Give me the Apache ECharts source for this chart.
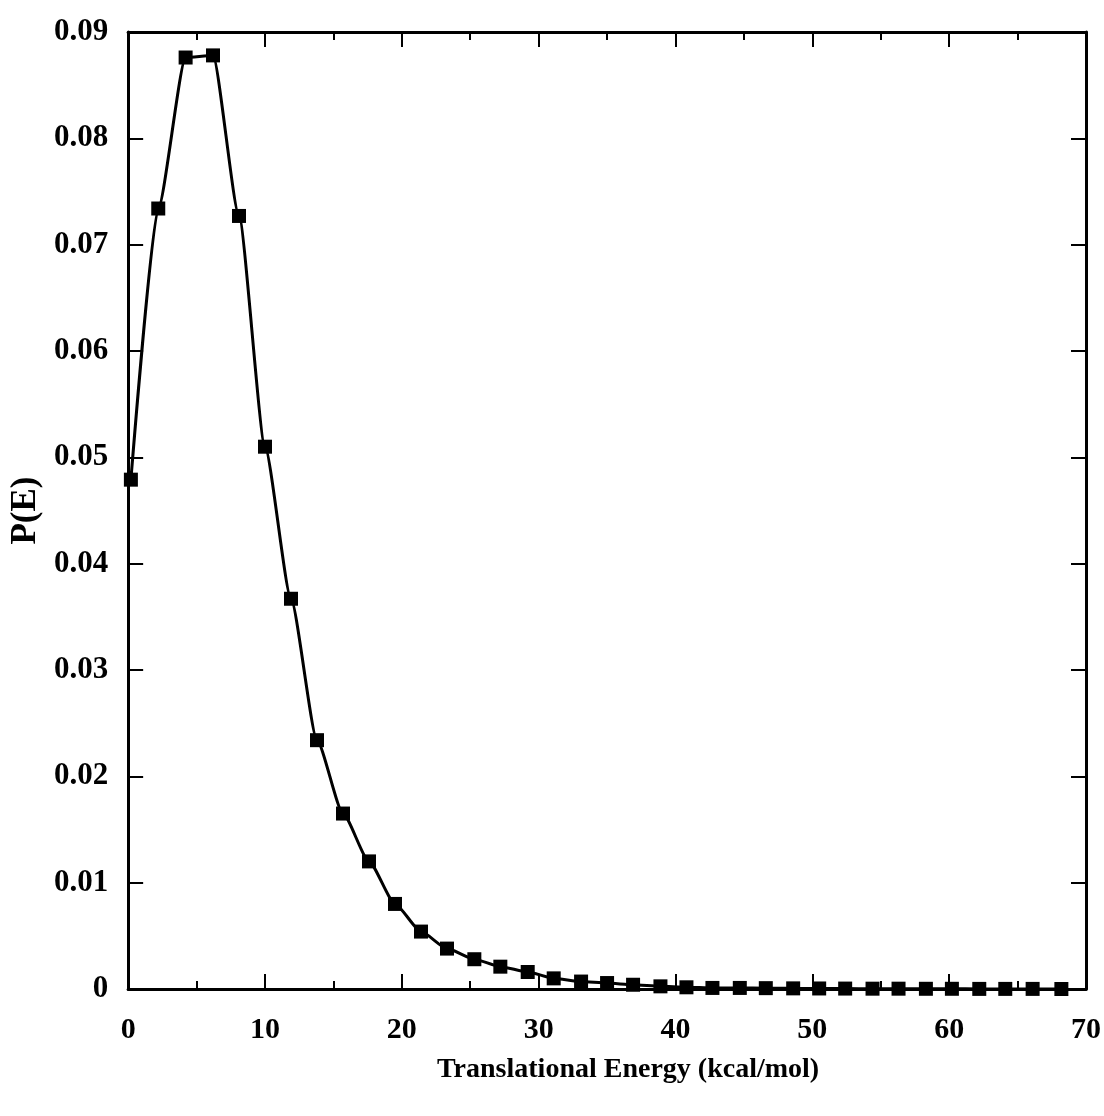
<!DOCTYPE html>
<html>
<head>
<meta charset="utf-8">
<script src="https://cdn.jsdelivr.net/npm/echarts@6/dist/echarts.min.js"></script>
<style>
html, body { margin: 0; padding: 0; background: #fff; }
#myChart { width: 1104px; height: 1116px; }
</style>
</head>
<body>
<div id="myChart"></div>
<script>
// translational energy (kcal/mol) of each point
var energy = [0.2, 2.2, 4.2, 6.2, 8.1, 10.0, 11.9, 13.8, 15.7, 17.6, 19.5, 21.4,
    23.3, 25.3, 27.2, 29.2, 31.1, 33.1, 35.0, 36.9, 38.9, 40.8, 42.7, 44.7,
    46.6, 48.6, 50.5, 52.4, 54.4, 56.3, 58.3, 60.2, 62.2, 64.1, 66.1, 68.2];
// P(E)
var prob = [0.0479, 0.0734, 0.0876, 0.0878, 0.0727, 0.0510, 0.0367, 0.0234,
    0.0165, 0.0120, 0.0080, 0.0054, 0.0038, 0.0028, 0.0021, 0.0016, 0.0010,
    0.0007, 0.00056, 0.0004, 0.00025, 0.00016, 0.0001, 0.0001, 0.00008,
    0.00006, 0.00005, 0.00004, 0.00003, 0.00003, 0.00002, 0.00002, 0.00001,
    0.00001, 0.00001, 0];
var xTicks = [0, 10, 20, 30, 40, 50, 60, 70];
var yTicks = [0, 0.01, 0.02, 0.03, 0.04, 0.05, 0.06, 0.07, 0.08, 0.09];

var points = energy.map(function (e, i) { return [e, prob[i]]; });
var font = 'Liberation Serif';
var frameLine = { show: true, onZero: false, lineStyle: { color: '#000', width: 3 } };
var tickStyle = { color: '#000', width: 2 };

var option = {
    backgroundColor: '#fff',
    animation: false,
    grid: { left: 128, right: 18, top: 32, bottom: 127 },
    xAxis: [
        {
            type: 'value',
            min: xTicks[0],
            max: xTicks[xTicks.length - 1],
            interval: 10,
            position: 'bottom',
            splitLine: { show: false },
            axisLine: frameLine,
            axisTick: { inside: true, length: 15, lineStyle: tickStyle },
            minorTick: { show: true, splitNumber: 2, length: 8, lineStyle: tickStyle },
            axisLabel: { color: '#000', fontFamily: font, fontWeight: 'bold', fontSize: 30, margin: 26 },
            name: 'Translational Energy (kcal/mol)',
            nameLocation: 'middle',
            nameGap: 67,
            nameTextStyle: {
                color: '#000', fontFamily: font, fontWeight: 'bold', fontSize: 28,
                padding: [0, 0, 0, 42]
            }
        },
        {
            type: 'value',
            min: xTicks[0],
            max: xTicks[xTicks.length - 1],
            interval: 10,
            position: 'top',
            splitLine: { show: false },
            axisLine: frameLine,
            axisTick: { inside: true, length: 15, lineStyle: tickStyle },
            minorTick: { show: true, splitNumber: 2, length: 8, lineStyle: tickStyle },
            axisLabel: { show: false }
        }
    ],
    yAxis: [
        {
            type: 'value',
            min: yTicks[0],
            max: yTicks[yTicks.length - 1],
            interval: 0.01,
            position: 'left',
            splitLine: { show: false },
            axisLine: frameLine,
            axisTick: { inside: true, length: 15, lineStyle: tickStyle },
            axisLabel: {
                color: '#000', fontFamily: font, fontWeight: 'bold', fontSize: 31, margin: 20,
                padding: [0, 0, 10, 0],
                formatter: function (v) { return v === 0 ? '0' : v.toFixed(2); }
            },
            name: 'P(E)',
            nameLocation: 'middle',
            nameGap: 82,
            nameTextStyle: { color: '#000', fontFamily: font, fontWeight: 'bold', fontSize: 35 }
        },
        {
            type: 'value',
            min: yTicks[0],
            max: yTicks[yTicks.length - 1],
            interval: 0.01,
            position: 'right',
            splitLine: { show: false },
            axisLine: frameLine,
            axisTick: { inside: true, length: 15, lineStyle: tickStyle },
            axisLabel: { show: false }
        }
    ],
    series: [
        {
            type: 'line',
            xAxisIndex: 0,
            yAxisIndex: 0,
            data: points,
            smooth: 0.2,
            smoothMonotone: 'x',
            symbol: 'rect',
            symbolSize: 14,
            showAllSymbol: true,
            lineStyle: { color: '#000', width: 3 },
            itemStyle: { color: '#000' }
        }
    ]
};

echarts.init(document.getElementById('myChart')).setOption(option);
</script>
</body>
</html>
